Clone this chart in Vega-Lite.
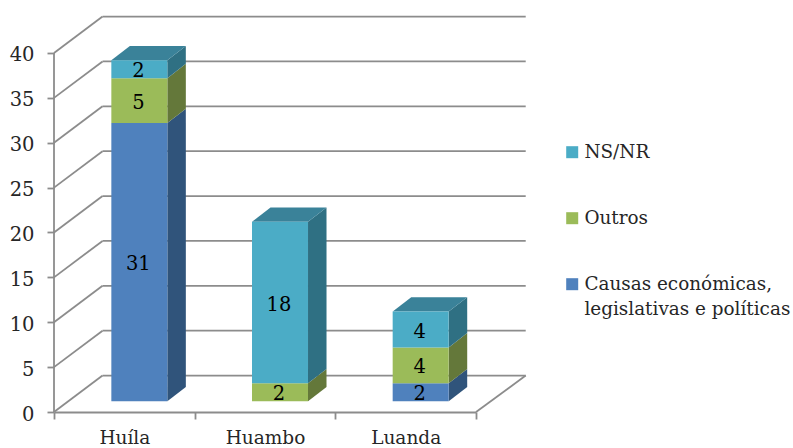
{
"$schema":"https://vega.github.io/schema/vega-lite/v6.json",
"width":472,"height":396,
"autosize":{"type":"none"},
"padding":{"left":54,"top":16,"right":267,"bottom":36},
"background":"white",
"config":{"view":{"stroke":null},"font":"DejaVu Serif"},
"datasets":{
"bars":[
{"region":"Huíla","category":"Causas económicas, legislativas e políticas","rank":1,"value":31},
{"region":"Huíla","category":"Outros","rank":2,"value":5},
{"region":"Huíla","category":"NS/NR","rank":3,"value":2},
{"region":"Huambo","category":"Outros","rank":2,"value":2},
{"region":"Huambo","category":"NS/NR","rank":3,"value":18},
{"region":"Luanda","category":"Causas económicas, legislativas e políticas","rank":1,"value":2},
{"region":"Luanda","category":"Outros","rank":2,"value":4},
{"region":"Luanda","category":"NS/NR","rank":3,"value":4}
],
"frame":[
{"x":0,"y":0,"x2":0,"y2":40},
{"x":3,"y":0,"x2":3.353,"y2":4.06},
{"x":0,"y":0,"x2":0.345,"y2":4.06},{"x":0,"y":5,"x2":0.345,"y2":9.06},{"x":0,"y":10,"x2":0.345,"y2":14.06},{"x":0,"y":15,"x2":0.345,"y2":19.06},{"x":0,"y":20,"x2":0.345,"y2":24.06},{"x":0,"y":25,"x2":0.345,"y2":29.06},{"x":0,"y":30,"x2":0.345,"y2":34.06},{"x":0,"y":35,"x2":0.345,"y2":39.06},{"x":0,"y":40,"x2":0.345,"y2":44.06},
{"x":0.345,"y":4.06,"x2":3.353,"y2":4.06},{"x":0.345,"y":9.06,"x2":3.353,"y2":9.06},{"x":0.345,"y":14.06,"x2":3.353,"y2":14.06},{"x":0.345,"y":19.06,"x2":3.353,"y2":19.06},{"x":0.345,"y":24.06,"x2":3.353,"y2":24.06},{"x":0.345,"y":29.06,"x2":3.353,"y2":29.06},{"x":0.345,"y":34.06,"x2":3.353,"y2":34.06},{"x":0.345,"y":39.06,"x2":3.353,"y2":39.06},{"x":0.345,"y":44.06,"x2":3.353,"y2":44.06}
],
"faces":[
{"id":"h1","shade":"Causas lateral","x":0.8056,"y":0,"y2":31},{"id":"h1","shade":"Causas lateral","x":0.9371,"y":1.6,"y2":32.6},
{"id":"h2","shade":"Outros lateral","x":0.8056,"y":31,"y2":36},{"id":"h2","shade":"Outros lateral","x":0.9371,"y":32.6,"y2":37.6},
{"id":"h3","shade":"NS/NR lateral","x":0.8056,"y":36,"y2":38},{"id":"h3","shade":"NS/NR lateral","x":0.9371,"y":37.6,"y2":39.6},
{"id":"m2","shade":"Outros lateral","x":1.8056,"y":0,"y2":2},{"id":"m2","shade":"Outros lateral","x":1.9371,"y":1.6,"y2":3.6},
{"id":"m3","shade":"NS/NR lateral","x":1.8056,"y":2,"y2":20},{"id":"m3","shade":"NS/NR lateral","x":1.9371,"y":3.6,"y2":21.6},
{"id":"l1","shade":"Causas lateral","x":2.8056,"y":0,"y2":2},{"id":"l1","shade":"Causas lateral","x":2.9371,"y":1.6,"y2":3.6},
{"id":"l2","shade":"Outros lateral","x":2.8056,"y":2,"y2":6},{"id":"l2","shade":"Outros lateral","x":2.9371,"y":3.6,"y2":7.6},
{"id":"l3","shade":"NS/NR lateral","x":2.8056,"y":6,"y2":10},{"id":"l3","shade":"NS/NR lateral","x":2.9371,"y":7.6,"y2":11.6},
{"id":"ht","shade":"topo","x":0.4076,"y":38,"y2":38},{"id":"ht","shade":"topo","x":0.5391,"y":38,"y2":39.6},{"id":"ht","shade":"topo","x":0.8056,"y":38,"y2":39.6},{"id":"ht","shade":"topo","x":0.9371,"y":39.6,"y2":39.6},
{"id":"mt","shade":"topo","x":1.4076,"y":20,"y2":20},{"id":"mt","shade":"topo","x":1.5391,"y":20,"y2":21.6},{"id":"mt","shade":"topo","x":1.8056,"y":20,"y2":21.6},{"id":"mt","shade":"topo","x":1.9371,"y":21.6,"y2":21.6},
{"id":"lt","shade":"topo","x":2.4076,"y":10,"y2":10},{"id":"lt","shade":"topo","x":2.5391,"y":10,"y2":11.6},{"id":"lt","shade":"topo","x":2.8056,"y":10,"y2":11.6},{"id":"lt","shade":"topo","x":2.9371,"y":11.6,"y2":11.6}
]
},
"resolve":{"scale":{"x":"independent","y":"independent","color":"independent"},"axis":{"x":"independent","y":"independent"}},
"layer":[
{"data":{"name":"frame"},
 "mark":{"type":"rule","color":"#8c8c8c","strokeWidth":1.8},
 "encoding":{
  "x":{"field":"x","type":"quantitative","scale":{"domain":[0,3.355],"nice":false,"zero":false},"axis":null},
  "x2":{"field":"x2"},
  "y":{"field":"y","type":"quantitative","scale":{"domain":[0,44.12],"nice":false},
   "axis":{"values":[0,5,10,15,20,25,30,35,40],"domain":false,"grid":false,"title":null,"tickSize":7,"tickWidth":1.8,"tickColor":"#8c8c8c","labelFontSize":19.5,"labelColor":"#262626","labelPadding":13,"labelOffset":2,"labelFont":"DejaVu Serif"}},
  "y2":{"field":"y2"}}},
{"data":{"name":"bars"},
 "mark":{"type":"tick","opacity":0},
 "encoding":{
  "x":{"field":"region","type":"nominal","title":null,"scale":{"domain":["Huíla","Huambo","Luanda"],"range":[0,422],"paddingInner":0,"paddingOuter":0},
   "axis":{"tickBand":"extent","labelAngle":0,"domainColor":"#8c8c8c","domainWidth":1.8,"tickColor":"#8c8c8c","tickWidth":1.8,"tickSize":7,"labelFontSize":18.5,"labelColor":"#262626","labelPadding":9,"labelFont":"DejaVu Serif"}},
  "y":{"datum":0,"type":"quantitative","scale":{"domain":[0,44.12],"nice":false},"axis":null}}},
{"data":{"name":"faces"},
 "mark":{"type":"area","line":false,"interpolate":"linear"},
 "encoding":{
  "x":{"field":"x","type":"quantitative","scale":{"domain":[0,3.355],"nice":false,"zero":false},"axis":null},
  "y":{"field":"y","type":"quantitative","stack":null,"scale":{"domain":[-1.19,42.93],"nice":false,"zero":false},"axis":null},
  "y2":{"field":"y2"},
  "detail":{"field":"id"},
  "color":{"field":"shade","type":"nominal","legend":null,"scale":{"domain":["Causas lateral","Outros lateral","NS/NR lateral","topo"],"range":["#30547b","#64783a","#2f7083","#3a8299"]}}}},
{"data":{"name":"bars"},
 "transform":[{"stack":"value","groupby":["region"],"sort":[{"field":"rank"}],"as":["y0","y1"]}],
 "mark":{"type":"bar"},
 "encoding":{
  "x":{"field":"region","type":"nominal","scale":{"domain":["Huíla","Huambo","Luanda"],"range":[15,437],"paddingInner":0.602,"paddingOuter":0.301},"axis":null},
  "y":{"field":"y0","type":"quantitative","scale":{"domain":[-1.19,42.93],"nice":false,"zero":false},"axis":null},
  "y2":{"field":"y1"},
  "color":{"field":"category","type":"nominal",
   "scale":{"domain":["NS/NR","Outros","Causas económicas, legislativas e políticas"],"range":["#4bacc6","#9bbb59","#4f81bd"]},
   "legend":{"orient":"none","legendX":509,"legendY":127,"title":null,"symbolType":"square","symbolSize":144,"symbolStrokeWidth":0,"labelFontSize":18.4,"labelColor":"#262626","labelFont":"DejaVu Serif","labelLimit":260,"rowPadding":47,"labelOffset":3,
    "encode":{"labels":{"update":{"lineHeight":{"value":25}}}},
    "labelExpr":"indexof(datum.label,',')>0 ? ['Causas económicas,','legislativas e políticas'] : datum.label"}}}},
{"data":{"name":"bars"},
 "transform":[{"stack":"value","groupby":["region"],"sort":[{"field":"rank"}],"as":["y0","y1"]},
  {"fold":["y0","y1"],"as":["edge","pos"]},
  {"aggregate":[{"op":"mean","field":"pos","as":"mid"},{"op":"max","field":"value","as":"value"}],"groupby":["region","category"]}],
 "mark":{"type":"text","fontSize":19.5,"color":"#000000","font":"DejaVu Serif","baseline":"middle","dy":2,"dx":-1},
 "encoding":{
  "x":{"field":"region","type":"nominal","scale":{"domain":["Huíla","Huambo","Luanda"],"range":[15,437],"paddingInner":0.602,"paddingOuter":0.301},"axis":null},
  "y":{"field":"mid","type":"quantitative","scale":{"domain":[-1.19,42.93],"nice":false,"zero":false},"axis":null},
  "text":{"field":"value","type":"quantitative"}}}
]
}
